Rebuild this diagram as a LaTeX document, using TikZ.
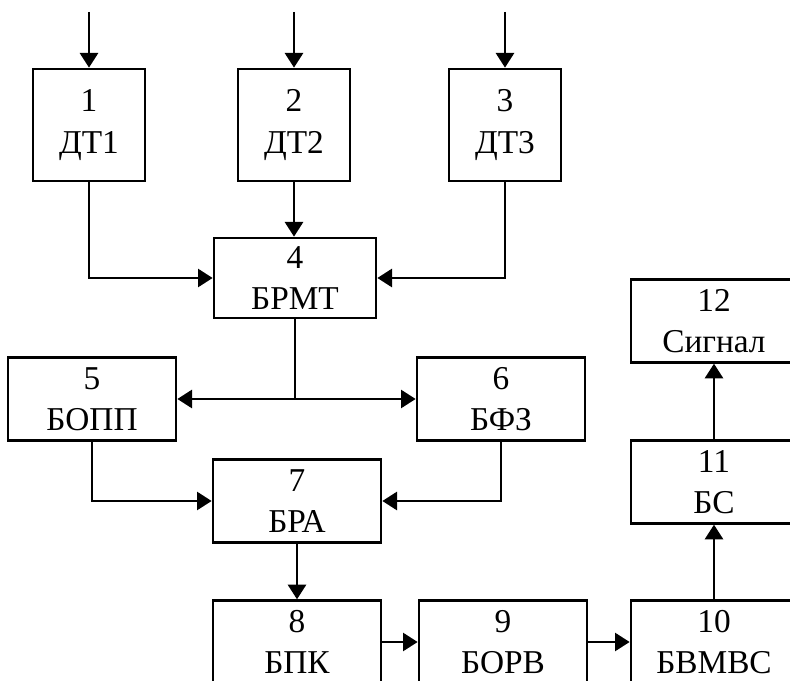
\documentclass[tikz,border=0pt]{standalone}
\usepackage{fontspec}
\setmainfont{Liberation Serif}
\usetikzlibrary{arrows.meta, positioning}

\tikzset{
  blok/.style={draw, line width=2pt, minimum width=#1, minimum height=62pt,
               inner sep=0pt, align=center, font=\fontsize{25}{31}\selectfont},
  blok/.default=126pt,
  datchik/.style={blok=84pt, minimum height=84pt},
  strelka/.style={line width=2pt, -{Triangle[length=11pt, width=13.5pt]}},
  linija/.style={line width=2pt}
}

\begin{document}
\begin{tikzpicture}[x=0.75pt, y=-0.75pt]
  \useasboundingbox (0,0) rectangle (790,681);
  \clip (0,0) rectangle (790,681);
  % Datchiki
  \node[datchik] (d1) at (89,125)  {1\\ДТ1};
  \node[datchik] (d2) at (294,125) {2\\ДТ2};
  \node[datchik] (d3) at (505,125) {3\\ДТ3};
  \foreach \nd/\xx in {d1/89, d2/294, d3/505}
    \coordinate (in-\nd) at (\xx,12);
  % Bloki
  \node[blok=121.5pt, minimum height=60pt] (brmt) at (295,278) {4\\БРМТ};
  \node[blok] (bopp) at (92,399)  {5\\БОПП};
  \node[blok] (bfz)  at (501,399) {6\\БФЗ};
  \node[blok] (bra)  at (297,501) {7\\БРА};
  \node[blok] (bpk)  at (297,642) {8\\БПК};
  \node[blok] (borv) at (503,642) {9\\БОРВ};
  \node[blok=124.5pt] (bvmvs) at (714,642) {10\\БВМВС};
  \node[blok=124.5pt] (bs)    at (714,482) {11\\БС};
  \node[blok=124.5pt] (sig)   at (714,321) {12\\Сигнал};
  % Vhody
  \foreach \nd in {d1, d2, d3}
    \draw[strelka] (in-\nd) -- (\nd);
  % Svyazi
  \draw[strelka] (d1) |- (brmt);
  \draw[strelka] (d2) -- (d2 |- brmt.north);
  \draw[strelka] (d3) |- (brmt);
  \coordinate (uzel) at (brmt.south |- bopp.east);
  \draw[linija] (brmt) -- (uzel);
  \draw[strelka] (uzel) -- (bopp);
  \draw[strelka] (uzel) -- (bfz);
  \draw[strelka] (bopp) |- (bra);
  \draw[strelka] (bfz) |- (bra);
  \draw[strelka] (bra) -- (bpk);
  \foreach \aa/\bb in {bpk/borv, borv/bvmvs, bvmvs/bs, bs/sig}
    \draw[strelka] (\aa) -- (\bb);
\end{tikzpicture}
\end{document}
